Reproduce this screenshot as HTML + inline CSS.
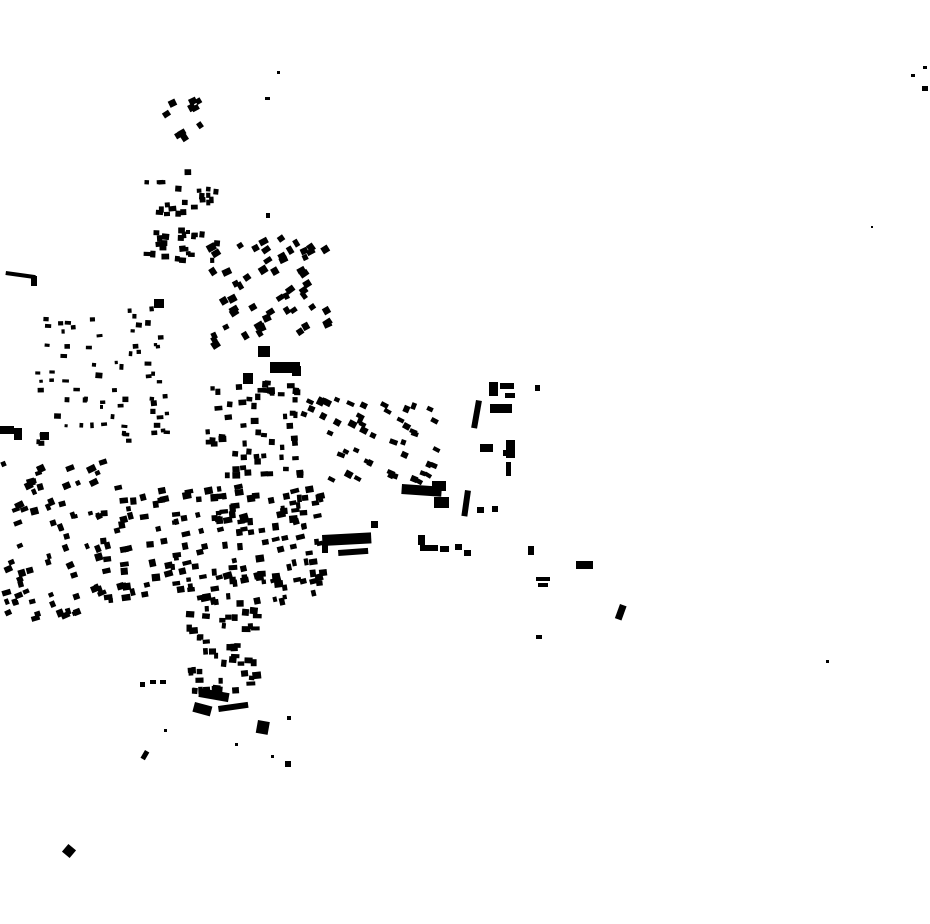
<!DOCTYPE html>
<html><head><meta charset="utf-8"><style>
html,body{margin:0;padding:0;background:#fff}
svg{display:block}
</style></head><body>
<svg id="m" width="930" height="924" viewBox="0 0 930 924" xmlns="http://www.w3.org/2000/svg">
<g fill="#000">
<rect x="277" y="71" width="3" height="3"/>
<rect x="265" y="97" width="5" height="3"/>
<rect x="911" y="74" width="4" height="3"/>
<rect x="923" y="66" width="4" height="3"/>
<rect x="922" y="86" width="6" height="5"/>
<rect x="871" y="226" width="2" height="2"/>
<rect x="6" y="271" width="30" height="4" transform="rotate(8 6 271)"/>
<rect x="31" y="276" width="6" height="10"/>
<rect x="258" y="346" width="12" height="11"/>
<rect x="270" y="362" width="30" height="11"/>
<rect x="292" y="366" width="9" height="10"/>
<rect x="243" y="373" width="10" height="11"/>
<rect x="154" y="299" width="10" height="9"/>
<rect x="0" y="426" width="14" height="8"/>
<rect x="14" y="428" width="8" height="12"/>
<rect x="40" y="432" width="9" height="8"/>
<rect x="489" y="382" width="9" height="14"/>
<rect x="500" y="383" width="14" height="6"/>
<rect x="505" y="393" width="10" height="5"/>
<rect x="490" y="404" width="22" height="9"/>
<rect x="476" y="400" width="6" height="28" transform="rotate(10 476 400)"/>
<rect x="480" y="444" width="13" height="8"/>
<rect x="506" y="440" width="9" height="18"/>
<rect x="503" y="450" width="6" height="6"/>
<rect x="506" y="462" width="5" height="14"/>
<rect x="535" y="385" width="5" height="6"/>
<rect x="402" y="484" width="40" height="10" transform="rotate(4 402 484)"/>
<rect x="432" y="481" width="14" height="10"/>
<rect x="434" y="497" width="15" height="11"/>
<rect x="465" y="490" width="6" height="26" transform="rotate(8 465 490)"/>
<rect x="477" y="507" width="7" height="6"/>
<rect x="492" y="506" width="6" height="6"/>
<rect x="322" y="535" width="49" height="11" transform="rotate(-3 322 535)"/>
<rect x="322" y="545" width="6" height="8"/>
<rect x="338" y="550" width="30" height="6" transform="rotate(-4 338 550)"/>
<rect x="371" y="521" width="7" height="7"/>
<rect x="418" y="535" width="7" height="10"/>
<rect x="420" y="545" width="18" height="6"/>
<rect x="440" y="546" width="9" height="6"/>
<rect x="455" y="544" width="7" height="6"/>
<rect x="464" y="550" width="7" height="6"/>
<rect x="528" y="546" width="6" height="9"/>
<rect x="536" y="577" width="14" height="4"/>
<rect x="538" y="583" width="10" height="4"/>
<rect x="576" y="561" width="17" height="8"/>
<rect x="620" y="604" width="7" height="15" transform="rotate(20 620 604)"/>
<rect x="536" y="635" width="6" height="4"/>
<rect x="826" y="660" width="3" height="3"/>
<rect x="195" y="702" width="18" height="10" transform="rotate(15 195 702)"/>
<rect x="200" y="688" width="30" height="9" transform="rotate(10 200 688)"/>
<rect x="218" y="706" width="30" height="6" transform="rotate(-8 218 706)"/>
<rect x="258" y="720" width="12" height="13" transform="rotate(10 258 720)"/>
<rect x="287" y="716" width="4" height="4"/>
<rect x="271" y="755" width="3" height="3"/>
<rect x="285" y="761" width="6" height="6"/>
<rect x="235" y="743" width="3" height="3"/>
<rect x="164" y="729" width="3" height="3"/>
<rect x="145" y="750" width="5" height="9" transform="rotate(30 145 750)"/>
<rect x="64" y="846" width="10" height="10" transform="rotate(40 69 851)"/>
<rect x="140" y="682" width="5" height="5"/>
<rect x="150" y="680" width="6" height="4"/>
<rect x="160" y="680" width="6" height="4"/>
<rect x="186" y="230" width="4" height="4"/>
<rect x="266" y="213" width="4" height="5"/>
</g>
<g id="c" fill="#000"></g>
</svg>
<script>
var s=12345;function r(){s=(s*1103515245+12345)%2147483648;return s/2147483648;}
var g=document.getElementById('c'),ns='http://www.w3.org/2000/svg';
function cl(x0,x1,y0,y1,n,a,b,rot){for(var i=0;i<n;i++){var e=document.createElementNS(ns,'rect');var x=x0+r()*(x1-x0),y=y0+r()*(y1-y0);var w=a+r()*(b-a),h=a+r()*(b-a)*0.7;e.setAttribute('x',x.toFixed(1));e.setAttribute('y',y.toFixed(1));e.setAttribute('width',w.toFixed(1));e.setAttribute('height',h.toFixed(1));e.setAttribute('transform','rotate('+(rot+(r()-0.5)*12).toFixed(0)+' '+x.toFixed(0)+' '+y.toFixed(0)+')');g.appendChild(e);}}
cl(157,203,92,138,10,5,8,-30);
cl(137,215,168,260,45,4,8,0);
cl(205,325,235,345,55,5,9,-30);
cl(35,165,305,445,70,3,7,0);
cl(205,300,380,475,60,4,8,0);
cl(300,435,395,485,50,4,8,25);
cl(0,100,460,620,70,4,9,-20);
cl(100,320,485,600,170,4,9,-10);
cl(185,255,600,690,50,4,9,0);
</script>
</body></html>
